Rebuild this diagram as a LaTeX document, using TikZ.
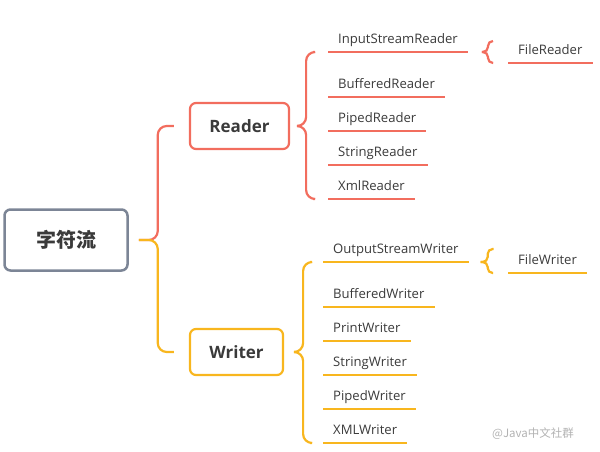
\documentclass[tikz,border=0pt]{standalone}
\usepackage{fontspec}
\setmainfont{Open Sans}
\newfontfamily\cjk{Noto Sans CJK SC}
\usepackage{tikz}
\usetikzlibrary{positioning,calc}

\definecolor{rdcol}{HTML}{F26D5E}
\definecolor{orcol}{HTML}{F8B61E}
\definecolor{gycol}{HTML}{7C8596}
\definecolor{txcol}{HTML}{3A3A3A}

\tikzset{
    topbox/.style={draw, rounded corners=6pt, line width=2.2pt, minimum width=93pt, minimum height=46pt, text=txcol, font=\fontsize{17}{20}\selectfont\bfseries},
    leaf/.style={inner xsep=10pt, inner ysep=5pt, text height=9pt, text depth=3pt, anchor=south west, text=txcol, font=\fontsize{13.1}{15}\selectfont},
    brace/.style={line width=2.2pt, rounded corners=9pt},
    small brace/.style={line width=2.2pt, rounded corners=5pt}
}

\begin{document}
\begin{tikzpicture}[x=1pt,y=-1pt]
    \useasboundingbox (0,0) rectangle (600,452);

    % root
    \node[draw=gycol, rounded corners=6pt, line width=2.5pt, minimum width=123pt, minimum height=61pt, text=txcol] (root) at (66,240) {\cjk\bfseries\fontsize{20}{24}\selectfont 字符流};

    % two groups
    \node[topbox, draw=rdcol, minimum width=99pt] (reader) at (239.5,126) {Reader};
    \node[topbox, draw=orcol] (writer) at (236.5,352) {Writer};

    \draw[brace, rdcol] ([xshift=10pt]root.east) -- ++(19,0) |- ([xshift=-15pt]reader.west);
    \draw[brace, orcol] ([xshift=10pt]root.east) -- ++(19,0) |- ([xshift=-15pt]writer.west);

    % Reader side
    \foreach \name/\y [count=\i] in {InputStreamReader/52, BufferedReader/97, PipedReader/131, StringReader/165, XmlReader/199} {
        \node[leaf] (r\i) at (328,\y) {\name};
        \draw[rdcol, line width=2pt] (r\i.south west) -- (r\i.south east);
    }
    \draw[brace, rdcol] ([xshift=11pt]reader.east) -- ++(5,0) |- ([xshift=-15pt]r1.south west);
    \draw[brace, rdcol] ([xshift=11pt]reader.east) -- ++(5,0) |- ([xshift=-15pt]r5.south west);

    \node[leaf] (fr) at (508,63) {FileReader};
    \draw[rdcol, line width=2pt] (fr.south west) -- (fr.south east);
    \draw[small brace, rdcol] ([xshift=14pt]r1.south east) -- ++(6,0) -- ++(0,-11) -- ++(5,0);
    \draw[small brace, rdcol] ([xshift=14pt]r1.south east) -- ++(6,0) |- ([xshift=-15pt]fr.south west);

    % Writer side
    \foreach \name/\y [count=\i] in {OutputStreamWriter/262, BufferedWriter/307, PrintWriter/341, StringWriter/375, PipedWriter/409, XMLWriter/443} {
        \node[leaf] (w\i) at (323,\y) {\name};
        \draw[orcol, line width=2pt] (w\i.south west) -- (w\i.south east);
    }
    \draw[brace, orcol] ([xshift=11pt]writer.east) -- ++(8,0) |- ([xshift=-13pt]w1.south west);
    \draw[brace, orcol] ([xshift=11pt]writer.east) -- ++(8,0) |- ([xshift=-13pt]w6.south west);

    \node[leaf] (fw) at (508,273) {FileWriter};
    \draw[orcol, line width=2pt] (fw.south west) -- (fw.south east);
    \draw[small brace, orcol] ([xshift=12pt]w1.south east) -- ++(7,0) -- ++(0,-13) -- ++(6,0);
    \draw[small brace, orcol] ([xshift=12pt]w1.south east) -- ++(7,0) |- ([xshift=-15pt]fw.south west);

    \node[anchor=west, inner sep=0pt, text=black!30] (mark) at (492,434) {\cjk\fontsize{11.5}{13}\selectfont @Java中文社群};
\end{tikzpicture}
\end{document}
